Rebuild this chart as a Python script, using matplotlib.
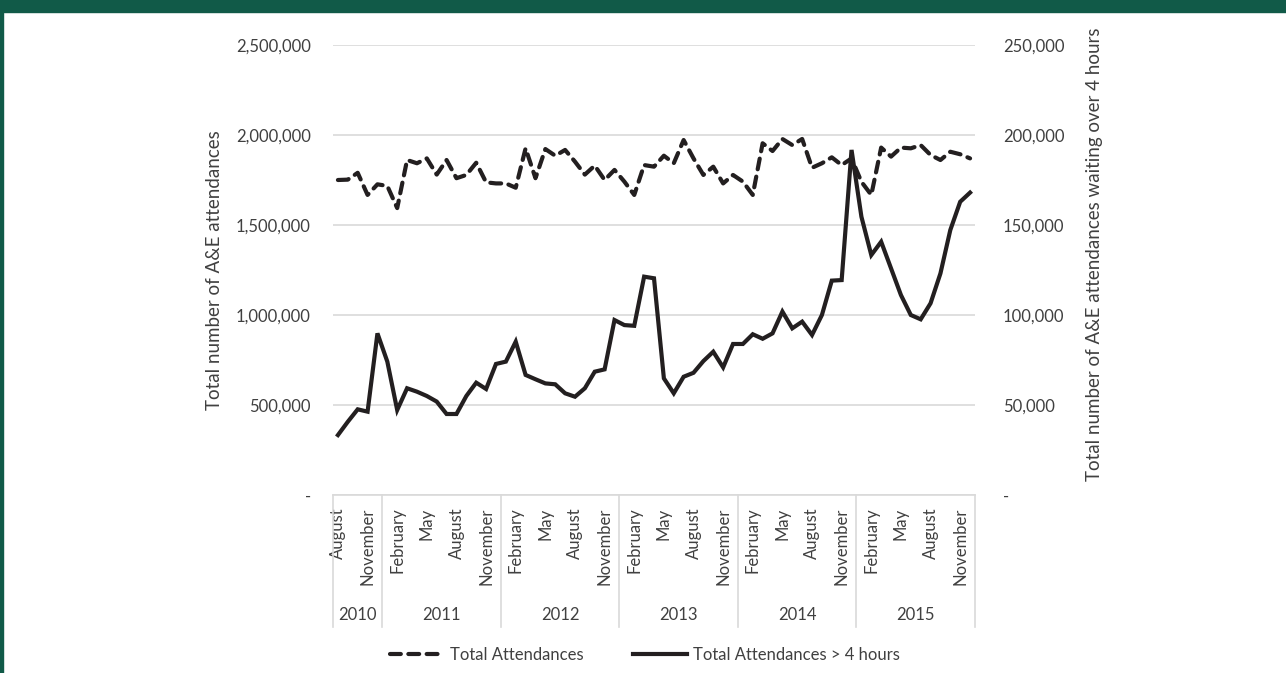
import matplotlib.pyplot as plt
from matplotlib.patches import Rectangle
from matplotlib.ticker import FuncFormatter
import matplotlib.transforms as mtransforms

plt.rcParams['font.family'] = ['Lato', 'DejaVu Sans']

# monthly data, August 2010 - December 2015
month_names = ["January", "February", "March", "April", "May", "June", "July",
               "August", "September", "October", "November", "December"]
years = [2010, 2011, 2012, 2013, 2014, 2015]
months_in_year = [5, 12, 12, 12, 12, 12]

total = [1750000, 1752000, 1790000, 1667000, 1726000, 1717000, 1594000, 1861000,
         1843000, 1870000, 1780000, 1861000, 1760000, 1778000, 1846000, 1737000,
         1731000, 1731000, 1707000, 1926000, 1760000, 1922000, 1885000, 1917000,
         1852000, 1780000, 1830000, 1750000, 1806000, 1741000, 1667000, 1833000,
         1824000, 1885000, 1843000, 1972000, 1870000, 1778000, 1824000, 1731000,
         1778000, 1741000, 1667000, 1954000, 1911000, 1978000, 1944000, 1978000,
         1818000, 1843000, 1876000, 1833000, 1870000, 1740000, 1667000, 1930000,
         1880000, 1930000, 1926000, 1944000, 1889000, 1861000, 1907000, 1893000,
         1870000]

over4h = [33300, 40700, 47600, 46300, 89800, 74100, 47200, 59300, 57400, 55000,
          51900, 45000, 45000, 55000, 62400, 58900, 72800, 74100, 85200, 66700,
          64300, 62000, 61500, 56500, 54600, 59300, 68500, 69800, 97200, 94400,
          94000, 121300, 120400, 64800, 56500, 65700, 67900, 74400, 79600, 70900,
          83900, 83900, 89300, 86800, 89800, 101900, 92600, 96300, 88900, 100000,
          119100, 119400, 191700, 154600, 133300, 140700, 125900, 111100, 100000,
          97600, 106500, 123100, 147200, 162900, 168000]

month_labels = []
for y, n in zip(years, months_in_year):
    start = 12 - n
    month_labels += month_names[start:]

x = list(range(len(total)))
green = "#115a48"
txt = "#404040"
grid = "#d9d9d9"

fig = plt.figure(figsize=(12.86, 6.73), dpi=100)
fig.patches.append(Rectangle((0, 1 - 12 / 673), 1, 12 / 673, transform=fig.transFigure,
                             color=green, zorder=0))
fig.patches.append(Rectangle((0, 0), 2.5 / 1286, 1, transform=fig.transFigure,
                             color=green, zorder=0))

ax = fig.add_axes([333 / 1286, 1 - 495 / 673, 642 / 1286, 450 / 673])
ax2 = ax.twinx()

ax.plot(x, total, color="#231f20", lw=3, linestyle=(0, (2.6, 1.8)),
        dash_capstyle="round", label="Total Attendances", zorder=3)
ax2.plot(x, over4h, color="#231f20", lw=3, solid_joinstyle="miter",
         label="Total Attendances > 4 hours", zorder=3)

ax.set_xlim(-0.5, len(x) - 0.5)
ax.set_ylim(0, 2500000)
ax2.set_ylim(0, 250000)
ax.set_yticks(range(0, 2500001, 500000))
ax2.set_yticks(range(0, 250001, 50000))
fmt = FuncFormatter(lambda v, p: "-" if v == 0 else f"{v:,.0f}")
ax.yaxis.set_major_formatter(fmt)
ax2.yaxis.set_major_formatter(fmt)

ax.yaxis.grid(True, color=grid, lw=1.2)
ax.set_axisbelow(True)
for a in (ax, ax2):
    for s in a.spines.values():
        s.set_visible(False)
ax.spines["bottom"].set_visible(True)
ax.spines["bottom"].set_color(grid)
ax.spines["bottom"].set_linewidth(1.2)

ax.tick_params(axis="y", length=0, pad=16, labelsize=12, labelcolor=txt)
ax2.tick_params(axis="y", length=0, pad=20, labelsize=12, labelcolor=txt)

ticks = x[::3]
ax.set_xticks(ticks)
ax.set_xticklabels([month_labels[i] for i in ticks], rotation=90, va="top", ha="center")
ax.tick_params(axis="x", length=0, pad=9, labelsize=12, labelcolor=txt)

ax.set_ylabel("Total number of A&E attendances", fontsize=13.5, color=txt)
ax.yaxis.set_label_coords(-0.172, 0.5)
ax2.set_ylabel("Total number of A&E attendances waiting over 4 hours", fontsize=13.5,
               color=txt, rotation=90)
ax2.yaxis.set_label_coords(1.173, 0.535)

# year separators and labels
trans = mtransforms.blended_transform_factory(ax.transData, ax.transAxes)
edge = -0.5
for yr, n in zip(years, months_in_year):
    ax.plot([edge, edge], [0, -0.293], color=grid, lw=1.2, transform=trans, clip_on=False)
    ax.text(edge + n / 2, -0.267, str(yr), transform=trans, ha="center", va="center",
            fontsize=12, color=txt)
    edge += n
ax.plot([edge, edge], [0, -0.293], color=grid, lw=1.2, transform=trans, clip_on=False)

h1, l1 = ax.get_legend_handles_labels()
h2, l2 = ax2.get_legend_handles_labels()
fig.legend(h1 + h2, l1 + l2, loc="center", bbox_to_anchor=(645 / 1286, 1 - 655 / 673),
           ncol=2, frameon=False, fontsize=12, handlelength=3.2, columnspacing=3.0,
           handletextpad=0.4, labelcolor=txt)

fig.savefig("out.png", dpi=100)
